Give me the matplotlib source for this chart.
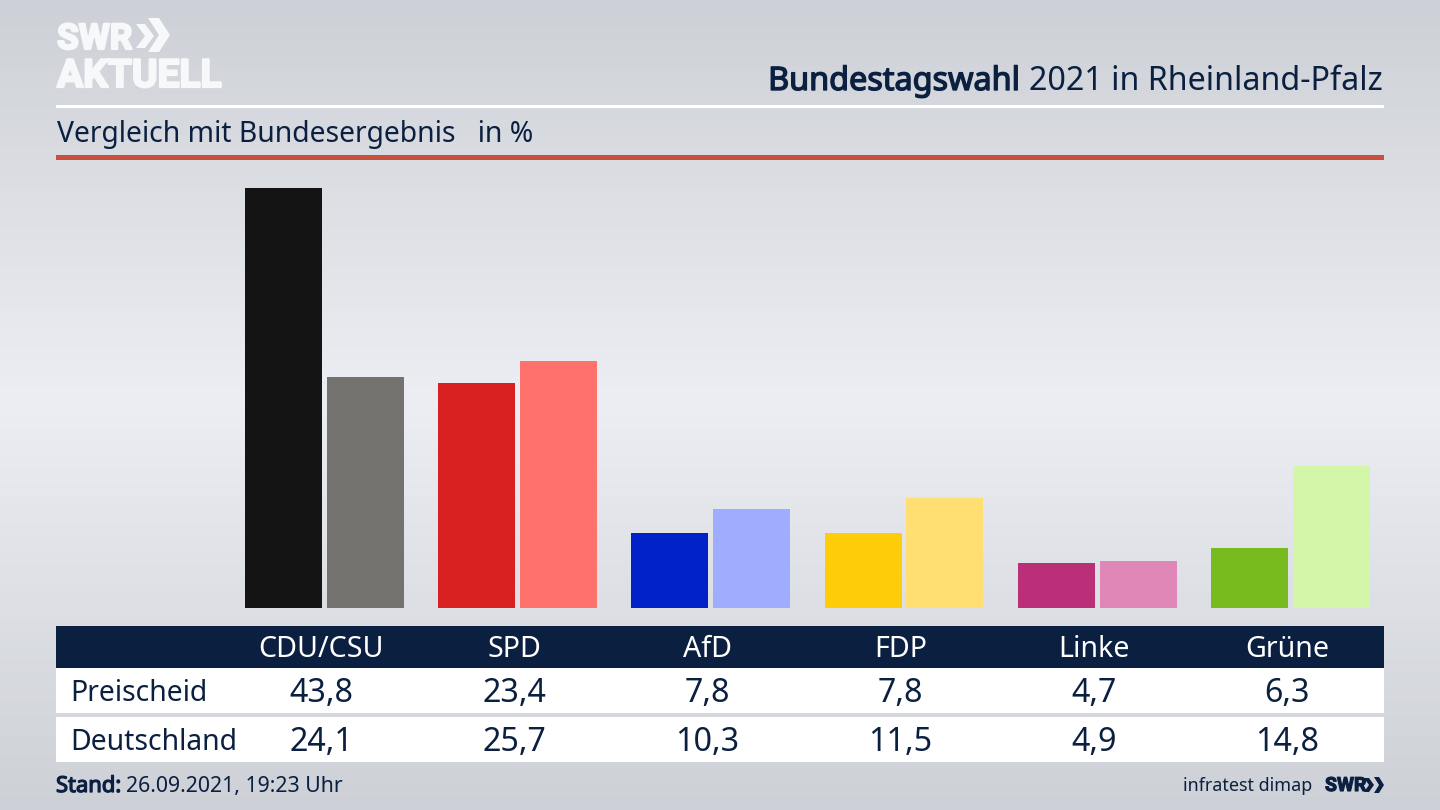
import numpy as np
import matplotlib
matplotlib.use('Agg')
import matplotlib.pyplot as plt
import matplotlib.patheffects as pe
from matplotlib.patches import Rectangle, Polygon

plt.rcParams['font.family'] = ['Noto Sans', 'DejaVu Sans']

parties = ['CDU/CSU', 'SPD', 'AfD', 'FDP', 'Linke', 'Grüne']
preischeid = [43.8, 23.4, 7.8, 7.8, 4.7, 6.3]
deutschland = [24.1, 25.7, 10.3, 11.5, 4.9, 14.8]
colors_rlp = ['#141414', '#d7201f', '#0022c8', '#ffcc0a', '#bb2f78', '#78bb1e']
colors_de = ['#74726f', '#ff716c', '#9fadff', '#ffdf72', '#df88b7', '#d3f6a8']
row_names = ['Preischeid', 'Deutschland']

navy = '#0b2040'
logo = '#f7f8f9'
W, H = 1440, 810


def chevron(axis, x, y0, y1, w, thick, color):
    ym = (y0 + y1) / 2
    axis.add_patch(Polygon([(x, y0), (x + thick, y0), (x + w, ym), (x + thick, y1), (x, y1), (x + w - thick, ym)],
                           color=color, lw=0))


fig = plt.figure(figsize=(14.4, 8.1), dpi=100)

# background gradient
bg = fig.add_axes([0, 0, 1, 1], zorder=0)
bg.axis('off')
grad = np.interp(np.arange(H), [0, 400, 810], [0, 1, 0])
top = np.array([205, 208, 214]) / 255
mid = np.array([236, 238, 243]) / 255
img = top + (mid - top) * grad[:, None]
bg.imshow(img[:, None, :], aspect='auto', extent=[0, W, H, 0])
bg.set_xlim(0, W)
bg.set_ylim(H, 0)

# bars, about 9.6 px per percent point
pitch = 193.2
x0 = 324.4
bar_top, bar_bottom = 160, 608
ax = fig.add_axes([56 / W, 1 - bar_bottom / H, (1384 - 56) / W, (bar_bottom - bar_top) / H], zorder=1)
ax.patch.set_alpha(0)
ax.axis('off')
ax.set_xlim((56 - x0) / pitch, (1384 - x0) / pitch)
ax.set_ylim(0, (bar_bottom - bar_top) / 9.6)
pos = np.arange(len(parties))
ax.bar(pos - 41 / pitch, preischeid, 77 / pitch, color=colors_rlp)
ax.bar(pos + 41 / pitch, deutschland, 77 / pitch, color=colors_de)

# overlay in pixel coordinates for header, table, footer
ov = fig.add_axes([0, 0, 1, 1], zorder=2)
ov.axis('off')
ov.patch.set_alpha(0)
ov.set_xlim(0, W)
ov.set_ylim(H, 0)

ov.add_patch(Rectangle((56, 104.5), 1328, 3, color='white', lw=0))
ov.add_patch(Rectangle((56, 155), 1328, 5, color='#c94f3d', lw=0))

# logo
logo_bold = [pe.withStroke(linewidth=1.6, foreground=logo)]
ov.text(57, 49, 'SWR', fontsize=25.5, fontweight='bold', color=logo, va='baseline', family='Roboto', path_effects=logo_bold)
ov.text(57, 87, 'AKTUELL', fontsize=28, fontweight='bold', color=logo, va='baseline', family='Roboto', path_effects=logo_bold)
chevron(ov, 136, 24, 48, 18, 9, logo)
chevron(ov, 148, 18, 52, 22, 11, logo)

# title, Noto Sans has no bold here so stroke it
bold = [pe.withStroke(linewidth=1.0, foreground=navy)]
ov.text(1383, 90, '2021 in Rheinland-Pfalz', fontsize=23.2, color=navy, ha='right', va='baseline')
ov.text(1020, 90, 'Bundestagswahl', fontsize=23.3, color=navy, ha='right', va='baseline', path_effects=bold)
ov.text(57, 142, 'Vergleich mit Bundesergebnis   in %', fontsize=20.4, color=navy, va='baseline')

# table
ov.add_patch(Rectangle((56, 626), 1328, 42, color=navy, lw=0))
ov.add_patch(Rectangle((56, 668), 1328, 45, color='white', lw=0))
ov.add_patch(Rectangle((56, 717), 1328, 45, color='white', lw=0))
centers = 321 + np.arange(len(parties)) * 193.2
for c, p in zip(centers, parties):
    ov.text(c, 657, p, fontsize=20.6, color='white', ha='center', va='baseline')
for y, name, vals in zip([701, 750], row_names, [preischeid, deutschland]):
    ov.text(70, y, name, fontsize=20.4, color=navy, va='baseline')
    for c, v in zip(centers, vals):
        ov.text(c, y + 1, f'{v:.1f}'.replace('.', ','), fontsize=23.2, color=navy, ha='center', va='baseline')

# footer
ov.text(56, 792, 'Stand:', fontsize=15.8, color=navy, va='baseline',
        path_effects=[pe.withStroke(linewidth=0.9, foreground=navy)])
ov.text(126, 792, '26.09.2021, 19:23 Uhr', fontsize=15.3, color=navy, va='baseline')
ov.text(1312, 791, 'infratest dimap', fontsize=12.9, color=navy, ha='right', va='baseline')
ov.text(1325, 791, 'SWR', fontsize=14, fontweight='bold', color=navy, va='baseline', family='Roboto',
        path_effects=[pe.withStroke(linewidth=0.8, foreground=navy)])
chevron(ov, 1364, 778, 792, 10, 5, navy)
chevron(ov, 1374, 777, 793, 10, 5, navy)

fig.savefig('out.png', dpi=100)
